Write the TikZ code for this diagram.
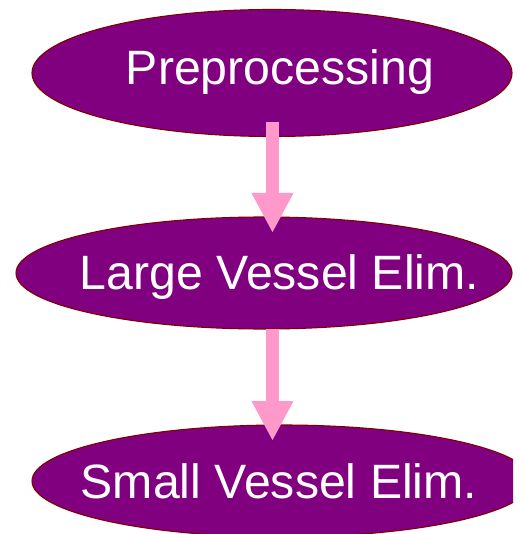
\documentclass[tikz,border=0pt]{standalone}
\usepackage{fontspec}
\setmainfont{Liberation Sans}
\usetikzlibrary{shapes.geometric,arrows.meta,calc}
\definecolor{stepfill}{HTML}{800080}
\definecolor{stepline}{HTML}{800000}
\definecolor{arrowpink}{HTML}{FF99CC}
\begin{document}
\begin{tikzpicture}[x=1pt,y=-1pt,
  stepellipse/.style={ellipse, fill=stepfill, draw=stepline, line width=1.1pt, inner sep=0pt},
  steptext/.style={text=white, font=\fontsize{48.2}{50}\selectfont, anchor=base, inner sep=0pt},
  flowarrow/.style={draw=arrowpink, line width=13pt, -{Triangle[width=39pt,length=40pt]}}]
\useasboundingbox (0,0) rectangle (522,534);
\node[stepellipse, minimum width=480pt, minimum height=127pt] (pre) at (272,73) {};
\node[stepellipse, minimum width=496pt, minimum height=112pt] (large) at (264,273) {};
\begin{scope}
\clip (0,0) rectangle (513,534);
\node[stepellipse, minimum width=500pt, minimum height=112pt] (small) at (282,481) {};
\end{scope}
\node[steptext] (pretext) at (280,85) {Preprocessing};
\node[steptext] (largetext) at (279.5,289) {Large Vessel Elim.};
\node[steptext] (smalltext) at (279,498) {Small Vessel Elim.};
\coordinate (a1s) at (272.5,122);
\coordinate (a1e) at (272.5,233);
\coordinate (a2s) at (272.5,329);
\coordinate (a2e) at (272.5,441);
\draw[flowarrow] (a1s) -- (a1e);
\draw[flowarrow] (a2s) -- (a2e);
\end{tikzpicture}
\end{document}
